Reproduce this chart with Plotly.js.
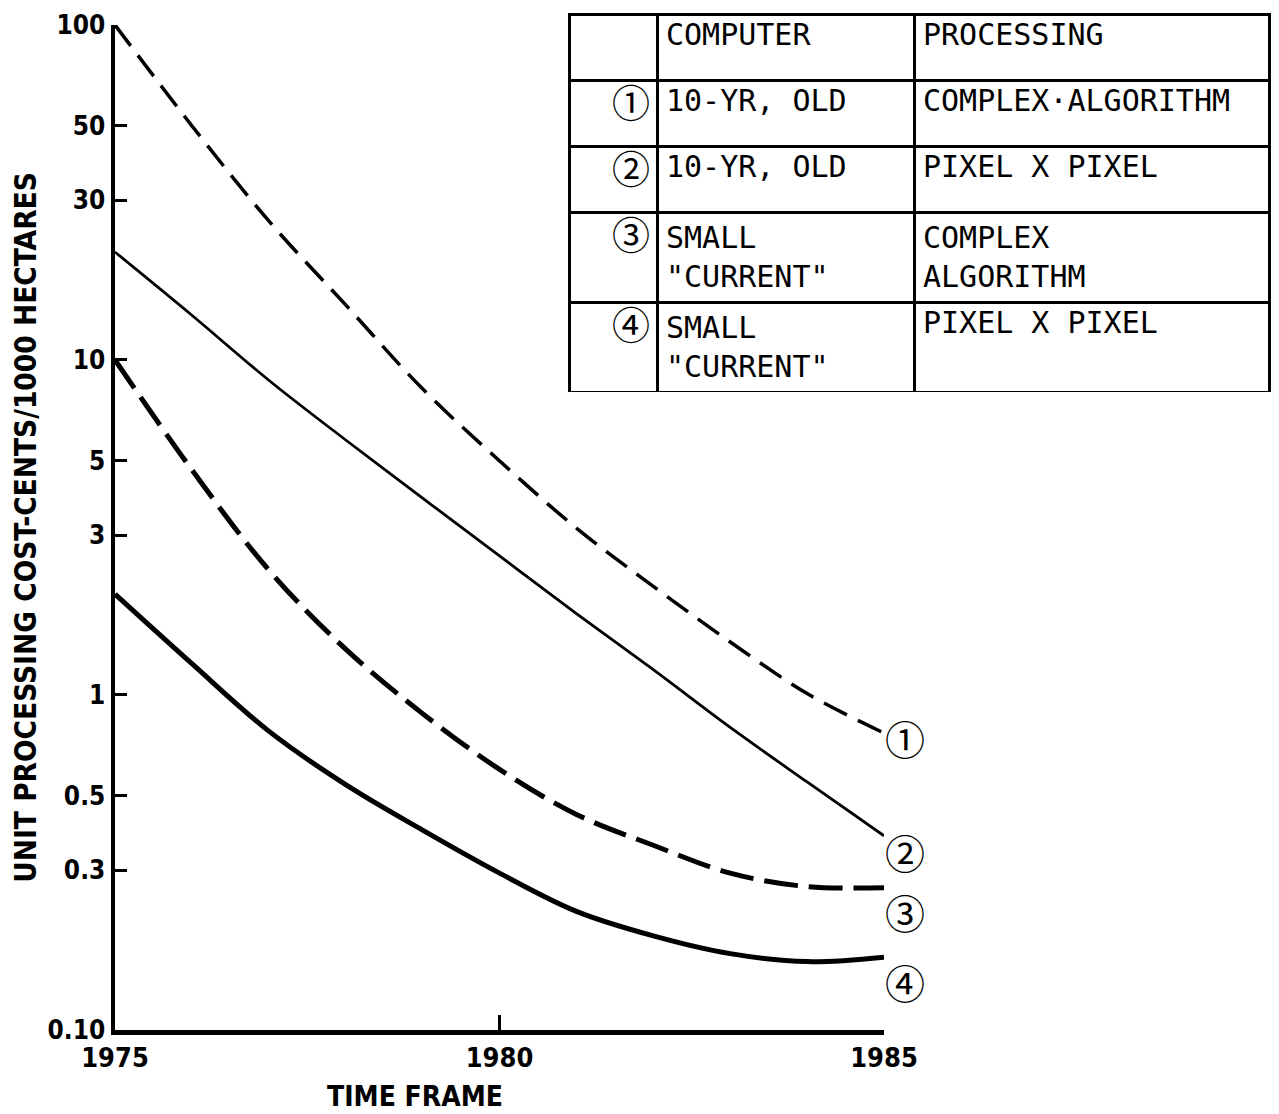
<!DOCTYPE html>
<html>
<head>
<meta charset="utf-8">
<script src="https://cdn.plot.ly/plotly-3.0.1.min.js"></script>
<style>html,body{margin:0;padding:0;background:#fff;}</style>
</head>
<body>
<div id="chart" style="width:1279px;height:1114px;"></div>
<script>
// ---- data ----
var years = [1975, 1976, 1977, 1978, 1979, 1980, 1981, 1982, 1983, 1984, 1985];
var curve1 = [100, 50, 26, 14.6, 8.2, 5.0, 3.15, 2.11, 1.44, 1.01, 0.77];        // 10-yr old, complex algorithm
var curve2 = [21, 13.6, 8.7, 5.77, 3.87, 2.6, 1.75, 1.19, 0.80, 0.55, 0.38];      // 10-yr old, pixel x pixel
var curve3 = [10, 4.7, 2.36, 1.37, 0.88, 0.60, 0.44, 0.356, 0.294, 0.268, 0.266]; // small current, complex algorithm
var curve4 = [2.0, 1.24, 0.78, 0.54, 0.395, 0.294, 0.226, 0.191, 0.169, 0.16, 0.165]; // small current, pixel x pixel

var curveLabels = ['①', '②', '③', '④'];
var yTickVals = [0.1, 0.3, 0.5, 1, 3, 5, 10, 30, 50, 100];
var yTickText = ['0.10', '0.3', '0.5', '1', '3', '5', '10', '30', '50', '100'];
var xTickVals = [1975, 1980, 1985];
var xTickText = ['1975', '1980', '1985'];

var tableHeader = ['', 'COMPUTER', 'PROCESSING'];
var tableNumbers = ['①', '②', '③', '④'];
var tableComputer = ['10-YR, OLD', '10-YR, OLD', 'SMALL<br>"CURRENT"', 'SMALL<br>"CURRENT"'];
var tableProcessing = ['COMPLEX·ALGORITHM', 'PIXEL X PIXEL', 'COMPLEX<br>ALGORITHM', 'PIXEL X PIXEL'];

var yTitle = 'UNIT PROCESSING COST-CENTS/1000 HECTARES';
var xTitle = 'TIME FRAME';

// ---- styles ----
var boldFont = 'DejaVu Sans Condensed, Liberation Sans Narrow, sans-serif';
var monoFont = 'DejaVu Sans Mono, Noto Sans CJK JP, monospace';

var series = [curve1, curve2, curve3, curve4];
var styles = [
  {width: 3.5, dash: '26px,12px'},
  {width: 2.8, dash: 'solid'},
  {width: 5, dash: '34px,11px'},
  {width: 5, dash: 'solid'}
];
var labelShift = [-5, -16, -24, -25];

var traces = series.map(function (s, i) {
  return {
    type: 'scatter', mode: 'lines', x: years, y: s,
    line: {color: '#000', width: styles[i].width, dash: styles[i].dash, shape: 'spline', smoothing: 1},
    cliponaxis: false, hoverinfo: 'x+y'
  };
});

traces.push({
  type: 'table',
  domain: {x: [0.3939, 1.0], y: [0.627, 1.0]},
  columnwidth: [88, 257, 355],
  header: {
    values: tableHeader,
    align: ['left', 'left', 'left'],
    height: 66,
    line: {color: '#000', width: 3},
    fill: {color: '#fff'},
    font: {family: monoFont, size: 30, color: '#000'}
  },
  cells: {
    values: [tableNumbers, tableComputer, tableProcessing],
    align: ['right', 'left', 'left'],
    height: 66,
    line: {color: '#000', width: 3},
    fill: {color: '#fff'},
    font: {family: monoFont, size: [38, 30, 30], color: '#000'}
  }
});

var annotations = series.map(function (s, i) {
  return {
    xref: 'x', yref: 'y', x: years[years.length - 1], y: Math.log10(s[s.length - 1]),
    xshift: 21, yshift: labelShift[i], text: curveLabels[i], showarrow: false,
    font: {family: 'Noto Sans CJK JP, DejaVu Sans', size: 40, color: '#000'},
    xanchor: 'center', yanchor: 'middle'
  };
});
annotations.push({
  xref: 'x', yref: 'paper', x: 1978.9, y: 0, yshift: -66, text: '<b>' + xTitle + '</b>',
  showarrow: false, xanchor: 'center', yanchor: 'middle',
  font: {family: boldFont, size: 28, color: '#000'}
});

var layout = {
  width: 1279, height: 1114,
  margin: {l: 115, r: 9, t: 14, b: 84},
  paper_bgcolor: '#fff', plot_bgcolor: '#fff',
  showlegend: false,
  xaxis: {
    domain: [0, 0.6658], range: [1975, 1985],
    tickvals: xTickVals, ticktext: xTickText,
    ticks: 'inside', ticklen: 15, tickwidth: 3, tickcolor: '#000',
    showline: true, linewidth: 4.5, linecolor: '#000',
    showgrid: false, zeroline: false,
    tickfont: {family: boldFont, size: 27, color: '#000', weight: 'bold'}
  },
  yaxis: {
    domain: [0, 0.9892], type: 'log', range: [-1, 2],
    tickvals: yTickVals, ticktext: yTickText,
    ticks: 'inside', ticklen: 12, tickwidth: 3, tickcolor: '#000',
    showline: true, linewidth: 4.5, linecolor: '#000',
    showgrid: false, zeroline: false,
    tickfont: {family: boldFont, size: 26, color: '#000', weight: 'bold'},
    title: {text: '<b>' + yTitle + '</b>', standoff: 4, font: {family: boldFont, size: 29.5, color: '#000'}}
  },
  annotations: annotations
};

Plotly.newPlot('chart', traces, layout, {displayModeBar: false, staticPlot: true});
</script>
</body>
</html>
